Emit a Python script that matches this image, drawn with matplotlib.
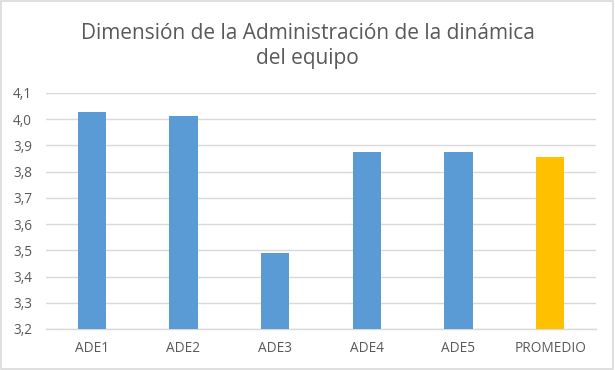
import numpy as np
import matplotlib.pyplot as plt
from matplotlib.patches import Rectangle
from matplotlib.ticker import FuncFormatter

# ===== DATA =====
categories = ["ADE1", "ADE2", "ADE3", "ADE4", "ADE5", "PROMEDIO"]
values = [4.028, 4.012, 3.491, 3.875, 3.875, 3.856]
bar_colors = ["#5B9BD5"] * 5 + ["#FFC000"]

title = "Dimensión de la Administración de la dinámica\ndel equipo"

plt.rcParams['font.family'] = ['Open Sans', 'DejaVu Sans']
text_color = '#595959'
grid_color = '#D9D9D9'

# ===== PLOT =====
fig = plt.figure(figsize=(6.15, 3.7), dpi=100)
ax = fig.add_axes([46 / 615, 1 - 329 / 370, 550 / 615, (329 - 93) / 370])

x = np.arange(len(categories))
ax.bar(x, values, width=0.31, color=bar_colors, zorder=3)

ax.set_ylim(3.2, 4.1)
ax.set_xlim(-0.5, len(categories) - 0.5)
ax.set_yticks(np.arange(3.2, 4.101, 0.1))
ax.yaxis.set_major_formatter(FuncFormatter(lambda v, p: f"{v:.1f}".replace('.', ',')))
ax.set_xticks(x)
ax.set_xticklabels(categories)

ax.grid(axis='y', color=grid_color, linewidth=1, zorder=0)
for s in ['top', 'right', 'left']:
    ax.spines[s].set_visible(False)
ax.spines['bottom'].set_color(grid_color)
ax.spines['bottom'].set_linewidth(1)

ax.tick_params(axis='both', length=0, labelsize=9.8, colors=text_color)
ax.tick_params(axis='y', pad=10)
ax.tick_params(axis='x', pad=9)

fig.text(0.5, 1 - 46 / 370, title, ha='center', va='center', fontsize=15,
         color=text_color, linespacing=1.2)

# chart area border
fig.patches.append(Rectangle((0.002, 0.003), 0.995, 0.993, transform=fig.transFigure,
                             fill=False, edgecolor=grid_color, linewidth=1.2))

fig.savefig('out.png', dpi=100)
